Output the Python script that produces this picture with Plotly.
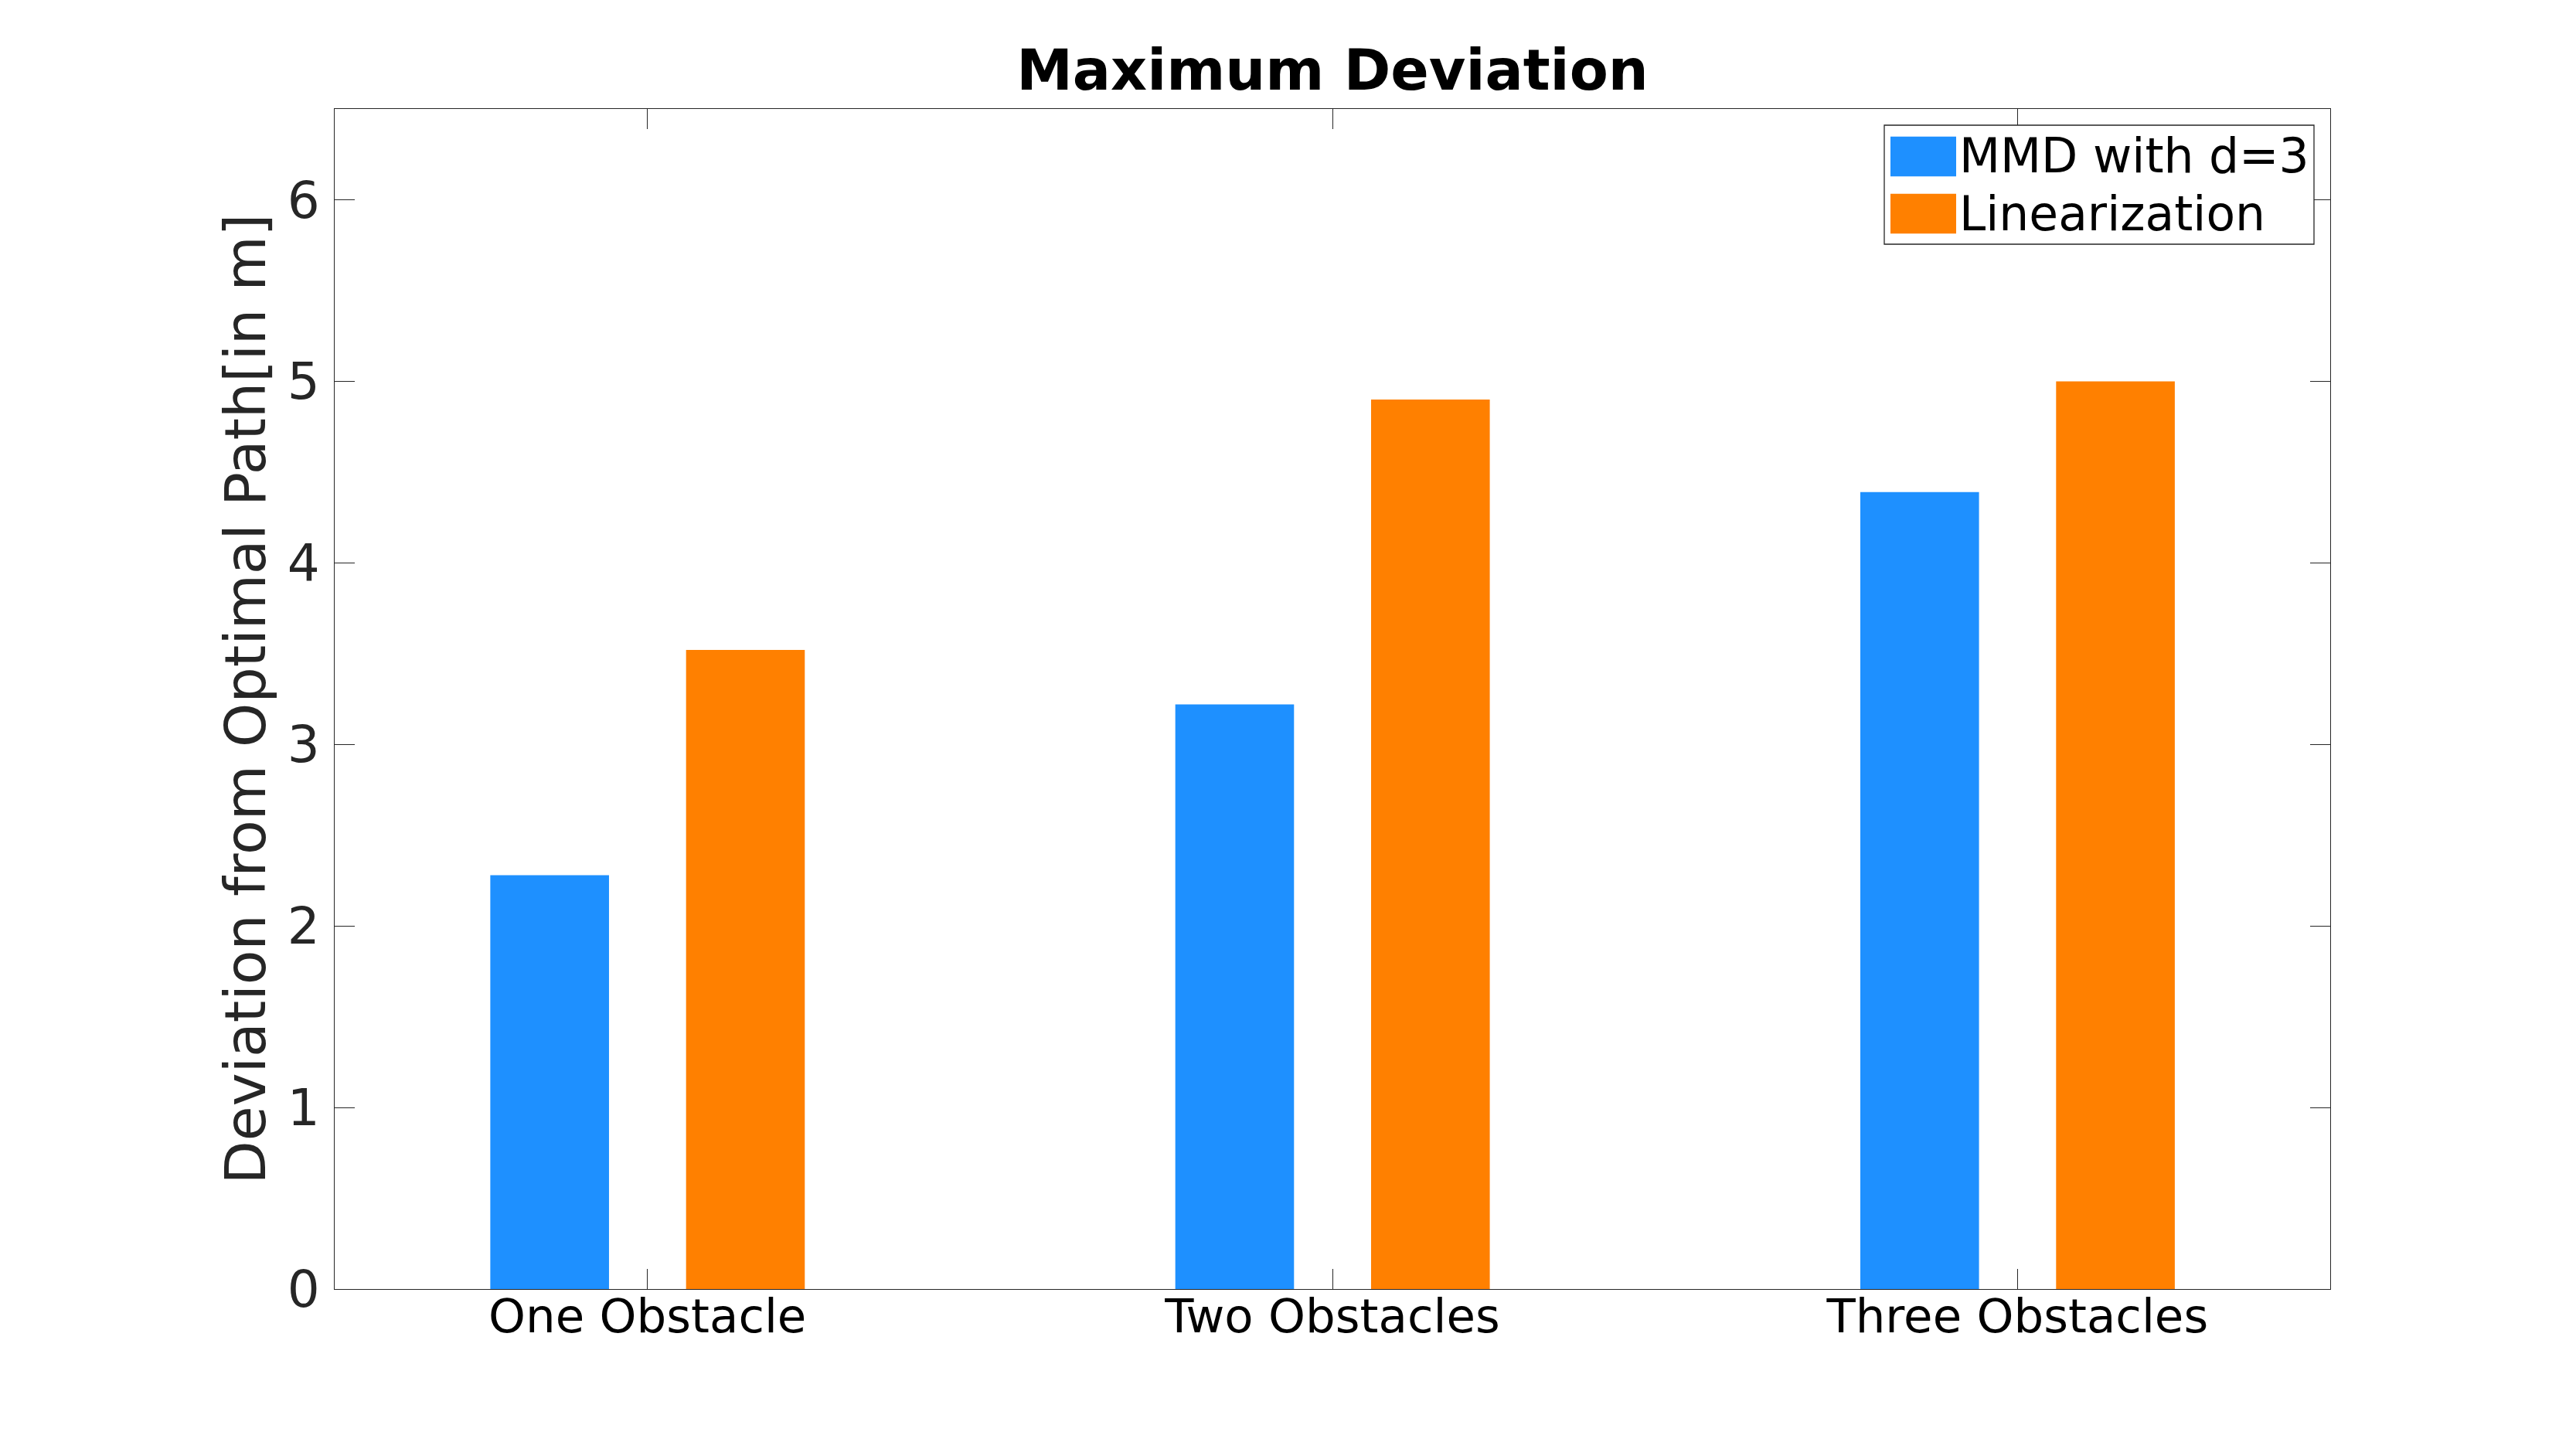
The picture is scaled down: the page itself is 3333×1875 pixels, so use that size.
import plotly.graph_objects as go

# ---- data ----
categories = ["One Obstacle", "Two Obstacles", "Three Obstacles"]
series_names = ["MMD with d=3", "Linearization"]
mmd_values = [2.28, 3.22, 4.39]
lin_values = [3.52, 4.90, 5.00]
y_tick_values = [0, 1, 2, 3, 4, 5, 6]
y_tick_labels = ["0", "1", "2", "3", "4", "5", "6"]

# ---- style ----
colors = ["#1E90FF", "#FF8000"]
FONT = "DejaVu Sans"
AX = "#262626"

W, H = 3333, 1875
OFF = 8  # page body margin
ML, MR, MT, MB = 425, 326, 133, 215
PW, PH = W - ML - MR, H - MT - MB


def px(X):
    return (X - OFF - ML) / PW


def py(Y):
    return (H - MB - (Y - OFF)) / PH


bar_width = 0.1733
offsets = [-0.2294, 0.0564]

fig = go.Figure()
for name, vals, col, off in zip(series_names, [mmd_values, lin_values], colors, offsets):
    fig.add_trace(go.Bar(
        x=categories, y=vals, name=name,
        marker=dict(color=col, line=dict(width=0)),
        width=bar_width, offset=off, showlegend=False,
    ))

# custom legend (box, swatches, labels)
shapes = [dict(type="rect", xref="paper", yref="paper",
               x0=px(2438), x1=px(2994), y0=py(316), y1=py(162),
               line=dict(color=AX, width=1.3), fillcolor="white", layer="above")]
annotations = []
rows = [(176.7, 228.3), (250.7, 302.3)]
for (t, b), col, name in zip(rows, colors, series_names):
    shapes.append(dict(type="rect", xref="paper", yref="paper",
                       x0=px(2446), x1=px(2531), y0=py(b), y1=py(t),
                       line=dict(width=0), fillcolor=col, layer="above"))
    annotations.append(dict(xref="paper", yref="paper", x=px(2533), y=py((t + b) / 2),
                            xanchor="left", yanchor="middle", text=name, showarrow=False,
                            font=dict(family=FONT, size=61.5, color="black")))

# y-axis title
annotations.append(dict(xref="paper", yref="paper", x=px(317), y=0.5,
                        xanchor="center", yanchor="middle", textangle=-90,
                        text="Deviation from Optimal Path[in m]", showarrow=False,
                        font=dict(family=FONT, size=73, color=AX)))

fig.update_layout(
    width=W, height=H,
    margin=dict(l=ML, r=MR, t=MT, b=MB, autoexpand=False),
    paper_bgcolor="white", plot_bgcolor="white",
    barmode="group",
    title=dict(text="<b>Maximum Deviation</b>", x=0.5, xref="paper", xanchor="center",
               y=1 - (90 - OFF) / H, yref="container", yanchor="middle",
               font=dict(family=FONT, size=73, color="black")),
    shapes=shapes, annotations=annotations,
    xaxis=dict(type="category", range=[-0.4566, 2.4566], showgrid=False, zeroline=False,
               showline=True, linecolor=AX, linewidth=1.3, mirror="ticks",
               ticks="inside", ticklen=26, tickwidth=1.3, tickcolor=AX,
               ticklabelstandoff=-18,
               tickfont=dict(family=FONT, size=61, color="black"), automargin=False),
    yaxis=dict(range=[0, 6.5], tickvals=y_tick_values, ticktext=y_tick_labels,
               showgrid=False, zeroline=False,
               showline=True, linecolor=AX, linewidth=1.3, mirror="ticks",
               ticks="inside", ticklen=26, tickwidth=1.3, tickcolor=AX,
               ticklabelstandoff=5,
               tickfont=dict(family=FONT, size=66, color=AX), automargin=False),
)

fig.write_html("out.html")
